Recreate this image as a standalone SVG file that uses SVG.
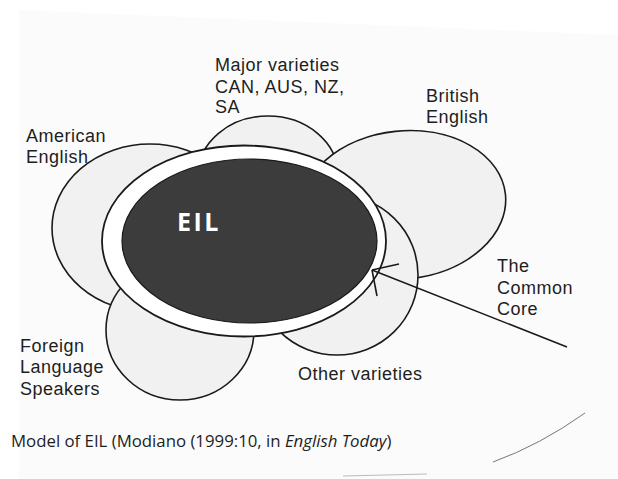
<svg xmlns="http://www.w3.org/2000/svg" width="618" height="479" viewBox="0 0 618 479">
<style>
.t{font-family:"Liberation Sans",Arial,sans-serif;font-size:18px;letter-spacing:0.5px;fill:#1e1e1e}
.c{fill:#f1f1f1;stroke:#1a1a1a;stroke-width:1.6}
.ln{stroke:#1a1a1a;stroke-width:1.6;fill:none}
</style>
<rect width="618" height="479" fill="#ffffff"/>
<polygon points="19,10 618,35 618,479 19,479" fill="#fbfbfb"/>
<path d="M493,462 Q540,445 585,413" fill="none" stroke="#777" stroke-width="1"/>
<path d="M343,476 L427,474" fill="none" stroke="#bbb" stroke-width="1"/>
<g id="major"><ellipse class="c" cx="268" cy="175" rx="70" ry="59"/></g>
<g id="american"><ellipse class="c" cx="150" cy="228" rx="98" ry="84"/></g>
<g id="foreign"><ellipse class="c" cx="180" cy="330" rx="74" ry="70"/></g>
<g id="british"><ellipse class="c" cx="403" cy="205" rx="103" ry="74" transform="rotate(-6 403 205)"/></g>
<g id="other"><ellipse class="c" cx="337" cy="275" rx="81" ry="80"/></g>
<g id="ring"><ellipse cx="244" cy="241" rx="142" ry="95.5" fill="#ffffff" stroke="#1a1a1a" stroke-width="1.8"/></g>
<g id="eil">
<ellipse cx="249.5" cy="241" rx="127.5" ry="82" fill="#3c3c3c" stroke="#1a1a1a" stroke-width="1.2"/>
<text x="177" y="231" style="font-family:'Open Sans','Liberation Sans',sans-serif;font-size:25px;font-weight:bold;fill:#ffffff;letter-spacing:2.5px">EIL</text>
</g>
<g id="connectors">
<line class="ln" x1="372" y1="270" x2="567" y2="347"/>
<line class="ln" x1="372" y1="270" x2="399" y2="264"/>
<line class="ln" x1="372" y1="270" x2="377" y2="296"/>
</g>
<g id="labels">
<text class="t" x="215" y="71">Major varieties</text>
<text class="t" x="215" y="93">CAN, AUS, NZ,</text>
<text class="t" x="215" y="113">SA</text>
<text class="t" x="426" y="102">British</text>
<text class="t" x="426" y="123">English</text>
<text class="t" x="26" y="142">American</text>
<text class="t" x="26" y="163">English</text>
<text class="t" x="497" y="272">The</text>
<text class="t" x="497" y="294">Common</text>
<text class="t" x="497" y="315">Core</text>
<text class="t" x="20" y="352">Foreign</text>
<text class="t" x="20" y="373">Language</text>
<text class="t" x="20" y="395">Speakers</text>
<text class="t" x="298" y="380">Other varieties</text>
<text x="11" y="447" style="font-family:'Open Sans','Liberation Sans',sans-serif;font-size:16.8px;fill:#1e1e1e">Model of EIL (Modiano (1999:10, in <tspan font-style="italic">English Today</tspan>)</text>
</g>
</svg>
